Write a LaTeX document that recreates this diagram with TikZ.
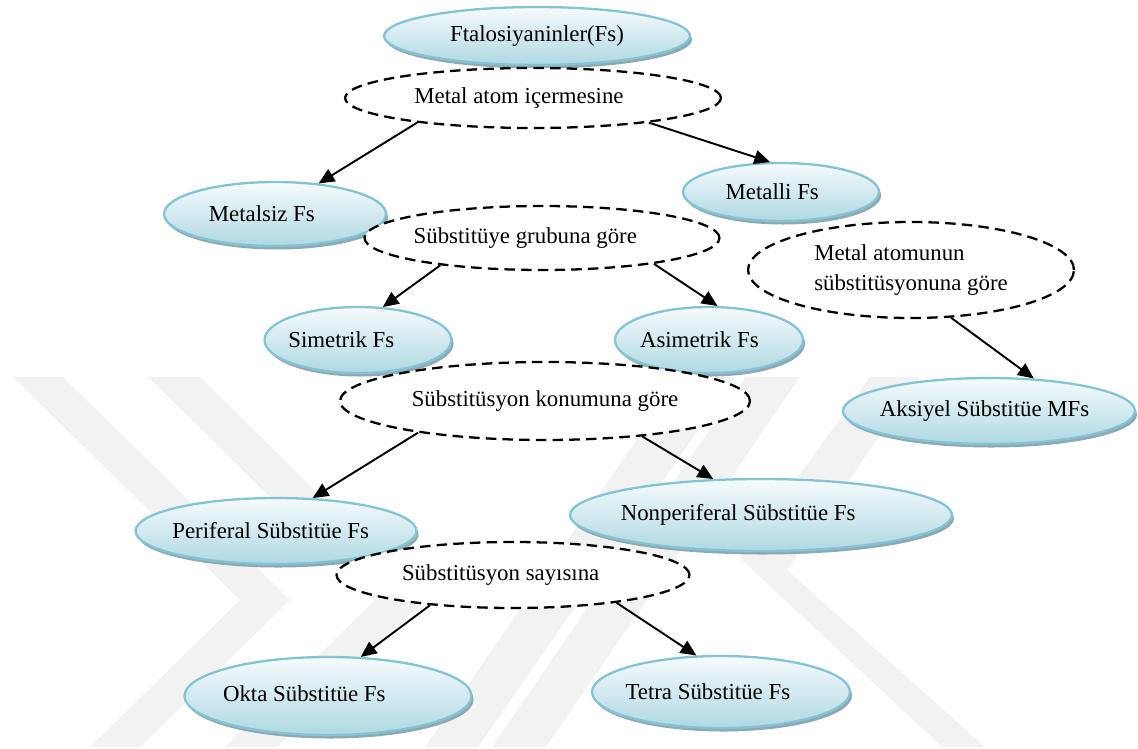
\documentclass[tikz,border=0pt]{standalone}
\usepackage{fontspec}
\setmainfont{Liberation Serif}
\usetikzlibrary{shapes.geometric,shadows,arrows.meta}
\definecolor{blobline}{HTML}{82C4D4}
\definecolor{blobtop}{HTML}{F6FBFC}
\definecolor{blobbot}{HTML}{AFD8E3}
\definecolor{blobshade}{HTML}{8FA9B2}
\definecolor{wmark}{HTML}{F2F2F2}
\newcommand{\lft}[2]{\makebox[0pt]{#2\hspace*{#1}}}

\begin{document}
\begin{tikzpicture}[x=0.02cm, y=-0.02cm,
    every node/.style={font=\fontsize{13}{15}\selectfont, inner sep=0pt},
    blob/.style={ellipse, draw=blobline, line width=1.3pt, top color=blobtop, bottom color=blobbot,
      drop shadow={shadow xshift=1.2pt, shadow yshift=-2pt, fill=blobshade, opacity=1}},
    crit/.style={ellipse, draw, dash pattern=on 6pt off 3.5pt, line width=1.3pt, fill=white},
    arr/.style={-{Triangle[length=9pt,width=8pt]}, line width=1.1pt}]
      \useasboundingbox (0,0) rectangle (1138,749);

      \fill[wmark] (13,377) -- (63,377) -- (290,600) -- (140,747) -- (90,747) -- (240,600) -- cycle;
      \fill[wmark] (148,377) -- (200,377) -- (425,600) -- (277,747) -- (225,747) -- (375,600) -- cycle;
      \fill[wmark] (680,377) -- (735,377) -- (478,747) -- (425,747) -- cycle;
      \fill[wmark] (746,377) -- (800,377) -- (546,747) -- (492,747) -- cycle;
      \fill[wmark] (870,377) -- (920,377) -- (787,570) -- (985,747) -- (942,747) -- (740,558) -- cycle;

      \node[blob, minimum width=6.12cm, minimum height=1.16cm] (ftalo) at (537,36) {Ftalosiyaninler(Fs)};
      \node[blob, minimum width=3.92cm, minimum height=1.16cm] (metalli) at (781,192) {\lft{10pt}{Metalli Fs}};
      \node[blob, minimum width=4.44cm, minimum height=1.28cm] (metalsiz) at (275,214) {\lft{15pt}{Metalsiz Fs}};
      \node[blob, minimum width=3.74cm, minimum height=1.32cm] (simetrik) at (358,340) {\lft{19pt}{Simetrik Fs}};
      \node[blob, minimum width=3.76cm, minimum height=1.32cm] (asimetrik) at (709,340) {\lft{11pt}{Asimetrik Fs}};
      \node[blob, minimum width=5.84cm, minimum height=1.32cm] (aksiyel) at (989,411) {\lft{5pt}{Aksiyel Sübstitüe MFs}};
      \node[blob, minimum width=7.64cm, minimum height=1.44cm] (nonperi) at (761,515) {\lft{26pt}{Nonperiferal Sübstitüe Fs}};
      \node[blob, minimum width=5.62cm, minimum height=1.32cm] (peri) at (276,531) {\lft{6pt}{Periferal Sübstitüe Fs}};
      \node[blob, minimum width=5.74cm, minimum height=1.56cm] (okta) at (328,696) {\lft{27pt}{\raisebox{3pt}{Okta Sübstitüe Fs}}};
      \node[blob, minimum width=5.16cm, minimum height=1.44cm] (tetra) at (721,692) {\lft{15pt}{Tetra Sübstitüe Fs}};

      \node[crit, minimum width=7.52cm, minimum height=1.2cm] (icerme) at (533,98) {\lft{16pt}{Metal atom içermesine}};
      \node[crit, minimum width=7.1cm, minimum height=1.28cm] (grup) at (542,238) {\lft{19pt}{Sübstitüye grubuna göre}};
      \node[crit, minimum width=6.52cm, minimum height=1.92cm, align=left] (atomsub) at (911,270) {Metal atomunun\\[2pt]sübstitüsyonuna göre};
      \node[crit, minimum width=8.2cm, minimum height=1.56cm] (konum) at (545,401) {Sübstitüsyon konumuna göre};
      \node[crit, minimum width=7.06cm, minimum height=1.32cm] (sayi) at (513,575) {\lft{14pt}{Sübstitüsyon sayısına}};

      \draw[arr] (icerme.192) -- (metalsiz.35);
      \draw[arr] (icerme.348) -- (metalli.110);
      \draw[arr] (grup.195) -- (simetrik.53);
      \draw[arr] (grup.347) -- (asimetrik.76);
      \draw[arr] (atomsub.310) -- (aksiyel.36);
      \draw[arr] (konum.194) -- (peri.42);
      \draw[arr] (konum.340) -- (nonperi.143);
      \draw[arr] (sayi.200) -- (okta.50);
      \draw[arr] (sayi.345) -- (tetra.124);

    \end{tikzpicture}
\end{document}
